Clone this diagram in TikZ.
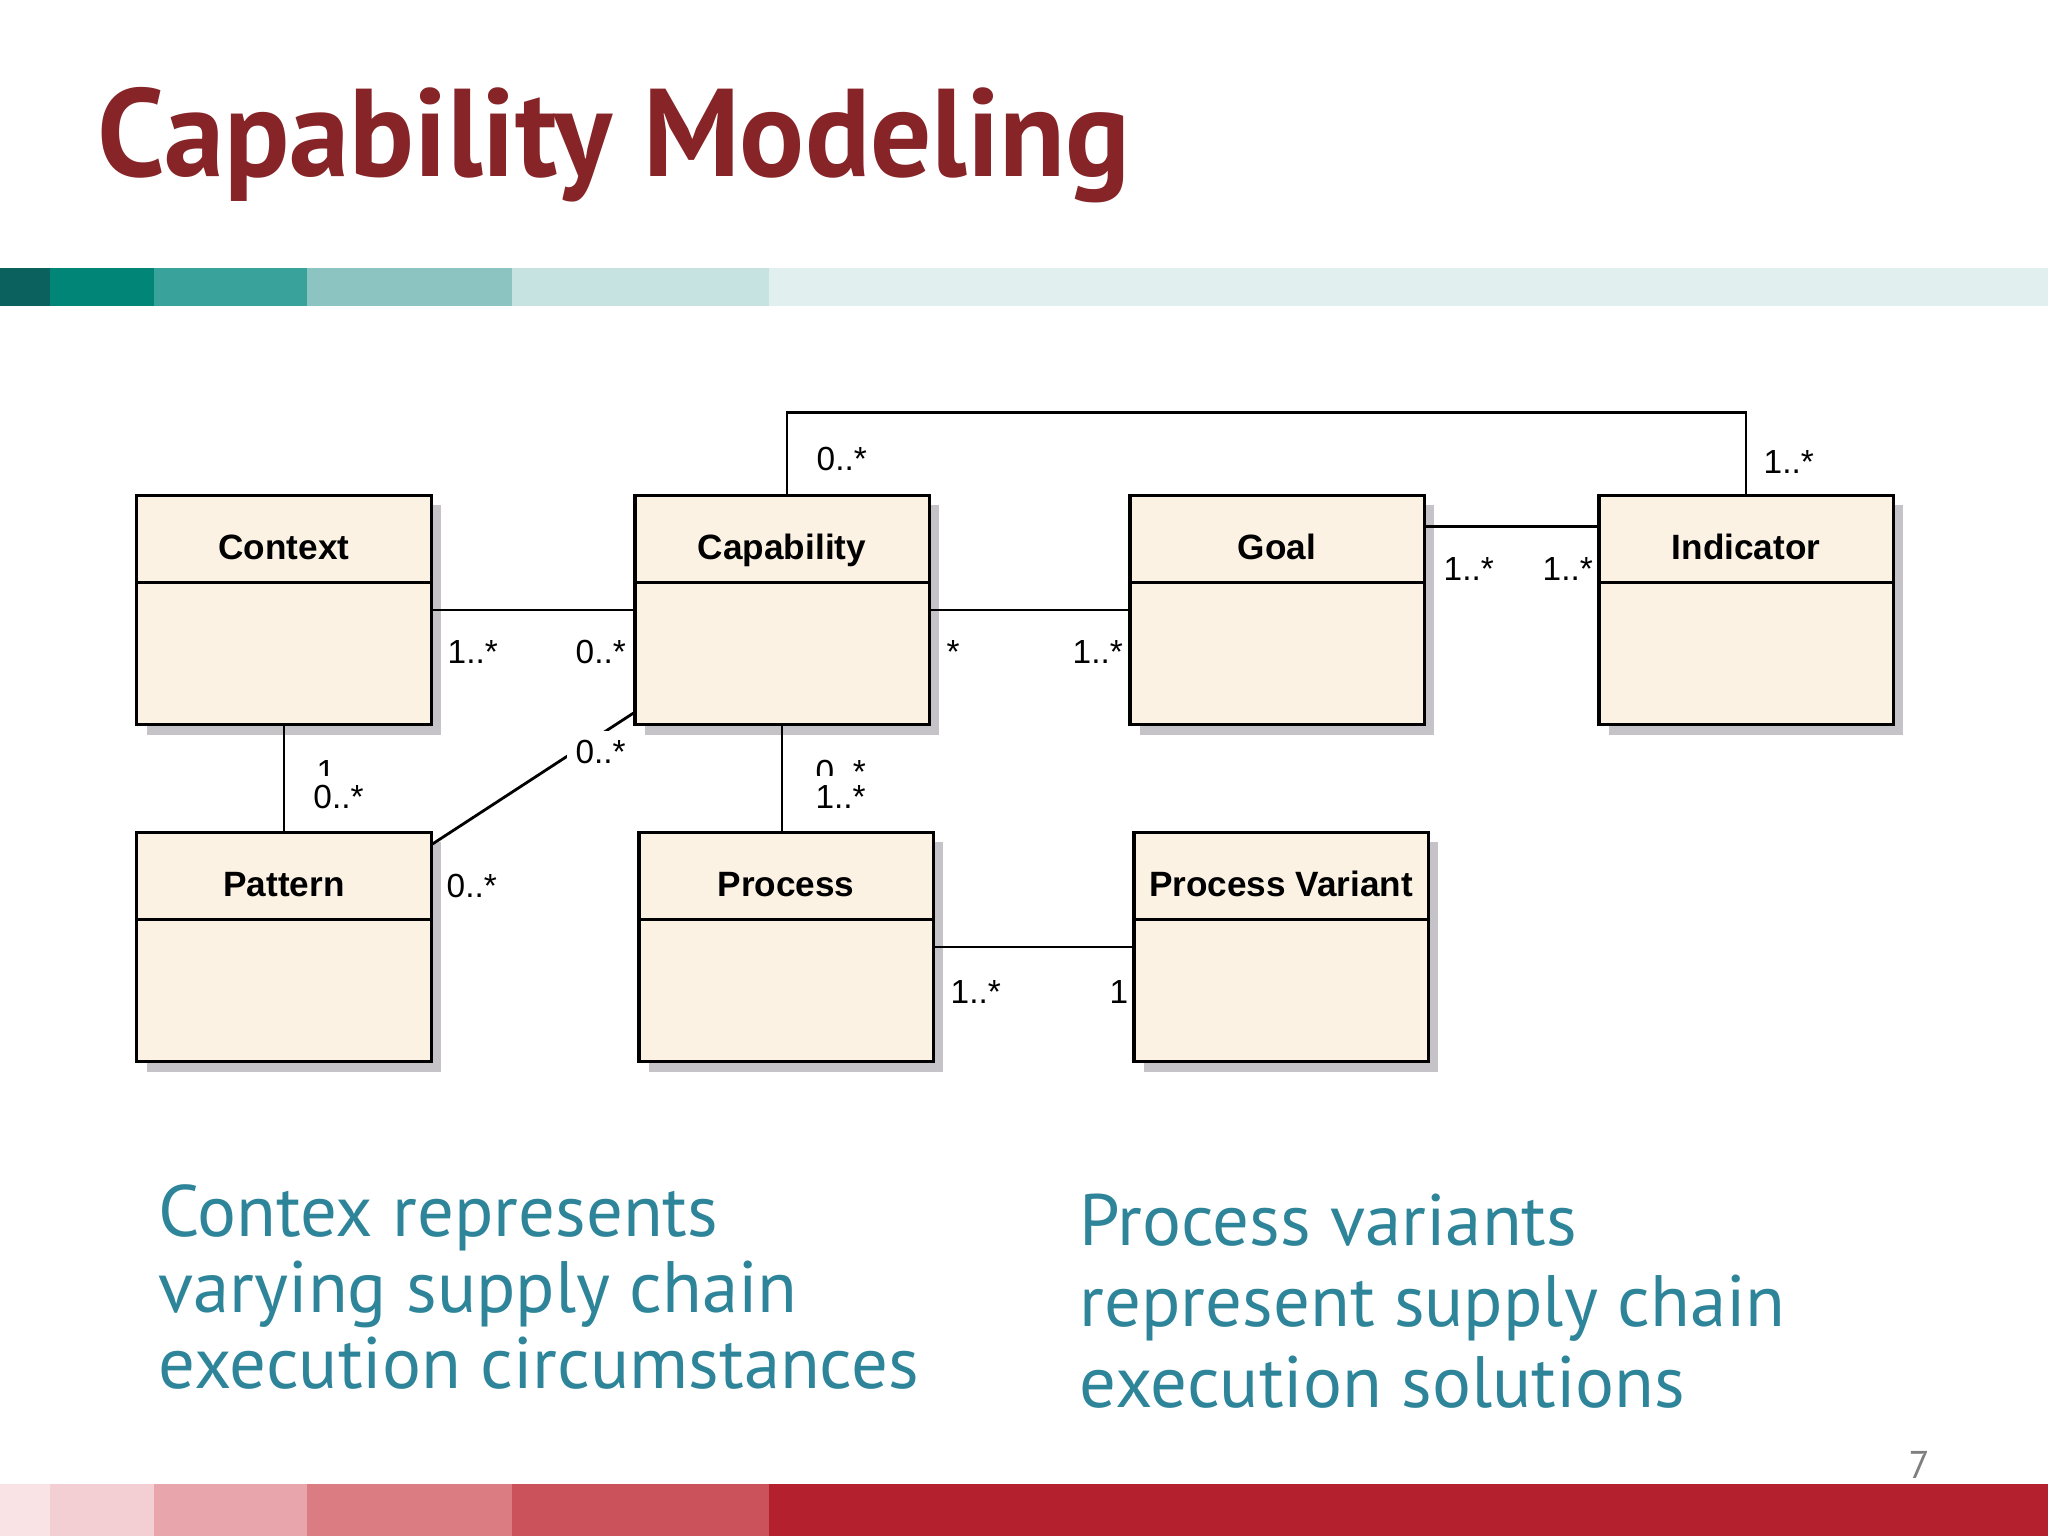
\documentclass[tikz,border=0pt]{standalone}
\usepackage{fontspec}
\setmainfont{Liberation Sans}
\newfontfamily\slidefont{PT Sans}
\newfontfamily\titlefont{PT Sans}[FakeStretch=0.97]
\usepackage{tikz}
\usetikzlibrary{shadows}
\definecolor{titlered}{HTML}{862428}
\definecolor{bodyteal}{HTML}{2E8599}
\definecolor{classfill}{HTML}{FCF2E4}
\definecolor{classshadow}{HTML}{C5C3C8}
\definecolor{pagegray}{HTML}{7F7F7F}

\begin{document}
\begin{tikzpicture}[x=0.01cm,y=-0.01cm,
    umlclass/.style={draw,line width=0.9pt,fill=classfill,
      minimum width=2.94cm,minimum height=2.29cm,inner sep=0pt,
      drop shadow={shadow xshift=0.1cm,shadow yshift=-0.1cm,
        fill=classshadow,opacity=1}},
    classname/.style={anchor=base,inner sep=0pt,
      font=\bfseries\fontsize{10}{12}\selectfont},
    assoc/.style={line width=0.8pt},
    mult/.style={anchor=base west,inner sep=0pt,
      font=\fontsize{9.5}{11}\selectfont},
    multfill/.style={mult,fill=white,inner sep=2.5pt},
    slide/.style={anchor=base west,inner sep=0pt,align=left,text=bodyteal}]
    \useasboundingbox[fill=white] (0,0) rectangle (2048,1536);

    % bands
    \foreach \xa/\xb/\c in {0/50/0B615E,50/154/008577,154/307/39A29A,
      307/512/8BC4C0,512/769/C6E2E1,769/2048/E1F0EF} {
      \definecolor{bandc}{HTML}{\c}
      \fill[bandc] (\xa,268) rectangle (\xb,306);
    }
    \foreach \xa/\xb/\c in {0/50/F9E3E5,50/154/F3CFD4,154/307/E8A6AC,
      307/512/DB7B82,512/769/CB525B,769/2048/B5202E} {
      \definecolor{bandc}{HTML}{\c}
      \fill[bandc] (\xa,1484) rectangle (\xb,1536);
    }

    \node[anchor=base west,inner sep=0pt,text=titlered,
      font=\titlefont\bfseries\fontsize{35.5}{40}\selectfont] (title)
      at (97,176) {Capability Modeling};

    \path
    (284,610) node[umlclass] (ctx) {}
    (782,610) node[umlclass] (cap) {}
    (1277,610) node[umlclass] (goal) {}
    (1746,610) node[umlclass] (ind) {}
    (284,947) node[umlclass] (pat) {}
    (786,947) node[umlclass] (proc) {}
    (1281,947) node[umlclass] (pvar) {}
    ;
    \foreach \c/\t in {ctx/Context,cap/Capability,goal/Goal,ind/Indicator,
      pat/Pattern,proc/Process,pvar/Process Variant} {
      \node[classname] (\c-name) at ([yshift=-0.66cm]\c.north) {\t};
      \draw[line width=0.9pt] ([yshift=-0.89cm]\c.north west)
        -- ([yshift=-0.89cm]\c.north east);
    }

    \draw[assoc] (ctx.east) -- (cap.west);
    \draw[assoc] (cap.east) -- (goal.west);
    \draw[assoc] ([yshift=-0.33cm]goal.north east) -- ([yshift=-0.33cm]ind.north west);
    \draw[assoc] ([xshift=0.05cm]cap.north) -- ++(0,-81) -| (ind.north);
    \draw[assoc] (ctx.south) -- (pat.north);
    \draw[assoc] ([yshift=-0.13cm]pat.north east) -- ([yshift=0.13cm]cap.south west);
    \draw[assoc] (cap.south) -- (cap.south |- proc.north);
    \draw[assoc] (proc.east) -- (pvar.west);

    % multiplicities
    \node[mult] (m1) at (447,663) {1..*};
    \node[mult] (m2) at (575,663) {0..*};
    \node[mult] (m3) at (946,663) {*};
    \node[mult] (m4) at (1072,663) {1..*};
    \node[mult] (m5) at (1443,580) {1..*};
    \node[mult] (m6) at (1542,580) {1..*};
    \node[mult] (m7) at (816,470) {0..*};
    \node[mult] (m8) at (1763,473) {1..*};
    \node[mult] (m9) at (316,783) {1};
    \node[multfill] (m10) at (304,808) {0..*};
    \node[mult] (m11) at (815,783) {0..*};
    \node[multfill] (m12) at (806,808) {1..*};
    \node[multfill] (m13) at (566,763) {0..*};
    \node[mult] (m14) at (446,897) {0..*};
    \node[mult] (m15) at (950,1003) {1..*};
    \node[mult] (m16) at (1109,1003) {1};

    % notes (base = last line)
    \node[slide,font=\slidefont\fontsize{20.7}{21}\selectfont] (note1) at (158,1388)
      {Contex represents\\[0.5pt]varying supply chain\\[0.5pt]execution circumstances};
    \node[slide,font=\slidefont\fontsize{20.7}{23}\selectfont] (note2) at (1079,1407)
      {Process variants\\represent supply chain\\execution solutions};

    \node[anchor=base west,inner sep=0pt,text=pagegray,
      font=\slidefont\fontsize{11}{12}\selectfont] (pageno) at (1908,1478) {7};
\end{tikzpicture}
\end{document}
